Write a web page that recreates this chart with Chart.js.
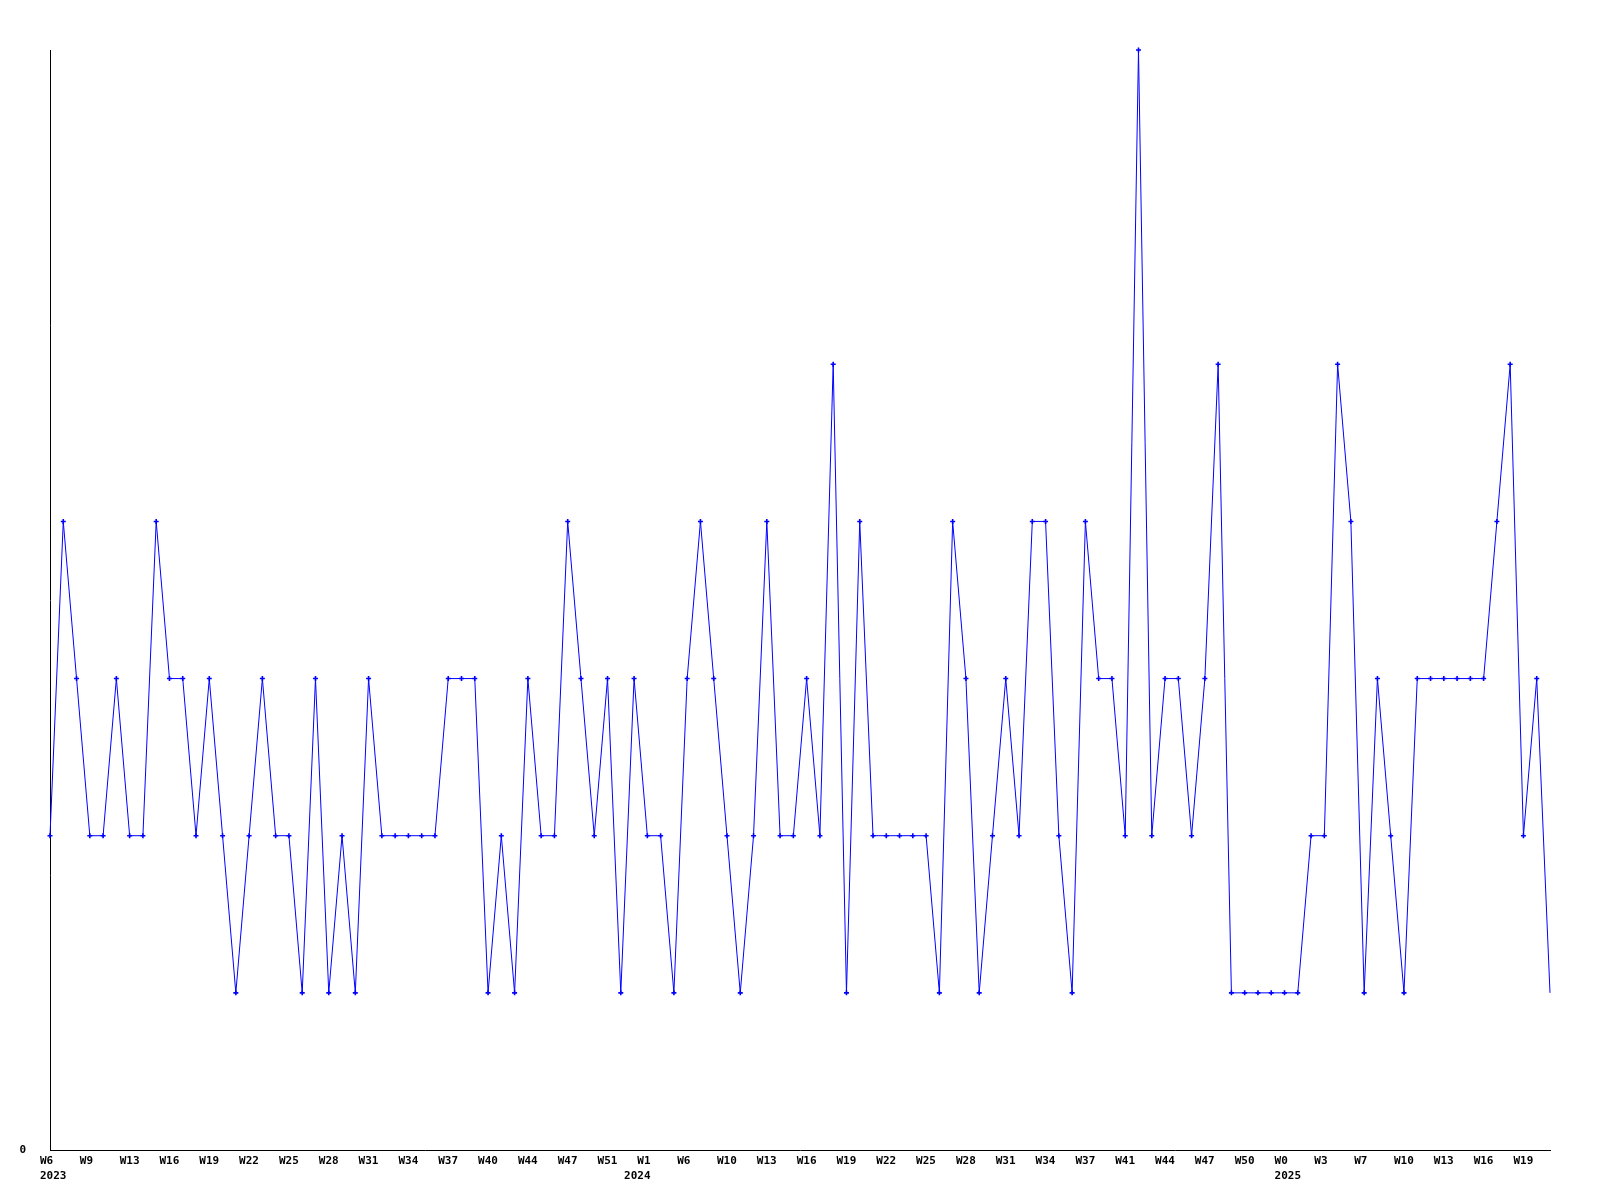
<!DOCTYPE html>
<html>
<head>
<meta charset="utf-8">
<script src="https://cdn.jsdelivr.net/npm/chart.js@4/dist/chart.umd.min.js"></script>
<style>
  html, body { margin: 0; padding: 0; background: #fff; }
  canvas { display: block; }
</style>
</head>
<body>
<canvas id="weekChart" width="1600" height="1200"></canvas>
<script>
// week label of every point (only every 3rd one is printed)
const weeks = [
  'W6','W7','W8','W9','W10','W11','W13','W14','W15','W16','W17','W18','W19','W20','W21',
  'W22','W23','W24','W25','W26','W27','W28','W29','W30','W31','W32','W33','W34','W35','W36',
  'W37','W38','W39','W40','W41','W42','W44','W45','W46','W47','W48','W50','W51','W52',
  'W0','W1','W3','W4','W6','W7','W8','W10','W11','W12','W13','W14','W15','W16','W17','W18',
  'W19','W20','W21','W22','W23','W24','W25','W26','W27','W28','W29','W30','W31','W32','W33',
  'W34','W35','W36','W37','W38','W40','W41','W42','W43','W44','W45','W46','W47','W48','W49',
  'W50','W51','W52',
  'W0','W1','W2','W3','W4','W6','W7','W8','W9','W10','W11','W12','W13','W14','W15','W16',
  'W17','W18','W19','W20','W21'
];

// year of every point, printed under the first point of a new year
const years = [].concat(
  Array(44).fill('2023'),
  Array(49).fill('2024'),
  Array(21).fill('2025')
);

const counts = [
  2,4,3,2,2,3,2,2,4,3,3,2,3,2,1,2,3,2,2,1,3,1,2,1,3,
  2,2,2,2,2,3,3,3,1,2,1,3,2,2,4,3,2,3,1,3,2,2,1,3,4,
  3,2,1,2,4,2,2,3,2,5,1,4,2,2,2,2,2,1,4,3,1,2,3,2,4,
  4,2,1,4,3,3,2,7,2,3,3,2,3,5,1,1,1,1,1,1,2,2,5,4,1,
  3,2,1,3,3,3,3,3,3,4,5,2,3,1
];

const yTicks = [0];

const blue = '#0000ff';
const font = { family: "'DejaVu Sans Mono', monospace", size: 11, weight: 'bold', lineHeight: '15px' };

// last point is drawn without a marker
const pointRadius = counts.map((v, i) => i === counts.length - 1 ? 0 : 2.5);

const ctx = document.getElementById('weekChart').getContext('2d');
new Chart(ctx, {
  type: 'line',
  data: {
    labels: weeks,
    datasets: [{
      data: counts,
      borderColor: blue,
      backgroundColor: blue,
      borderWidth: 1,
      tension: 0,
      fill: false,
      clip: false,
      pointStyle: 'cross',
      pointRadius: pointRadius,
      pointBorderWidth: 1.6,
      pointBorderColor: blue,
      pointHoverRadius: 0
    }]
  },
  options: {
    responsive: false,
    animation: false,
    devicePixelRatio: 1,
    layout: { padding: { top: 50, right: 50, left: 0, bottom: 0 } },
    plugins: { legend: { display: false }, tooltip: { enabled: false } },
    scales: {
      x: {
        offset: false,
        grid: { display: false, drawTicks: false },
        border: { display: true, color: '#000', width: 1 },
        afterFit: s => { s.height = 50; },
        ticks: {
          autoSkip: false,
          maxRotation: 0,
          minRotation: 0,
          align: 'start',
          labelOffset: -10,
          padding: 4,
          color: '#000',
          font: font,
          callback: function (value, index) {
            const first = index % 3 === 0 ? weeks[index] : '';
            if (index === 0 || years[index] !== years[index - 1]) {
              return [first, years[index]];
            }
            return first;
          }
        }
      },
      y: {
        min: 0,
        max: 7,
        grid: { display: false, drawTicks: false },
        border: { display: true, color: '#000', width: 1 },
        afterFit: s => { s.width = 50; },
        afterBuildTicks: s => { s.ticks = yTicks.map(v => ({ value: v })); },
        ticks: {
          padding: 24,
          color: '#000',
          font: font
        }
      }
    }
  }
});
</script>
</body>
</html>
